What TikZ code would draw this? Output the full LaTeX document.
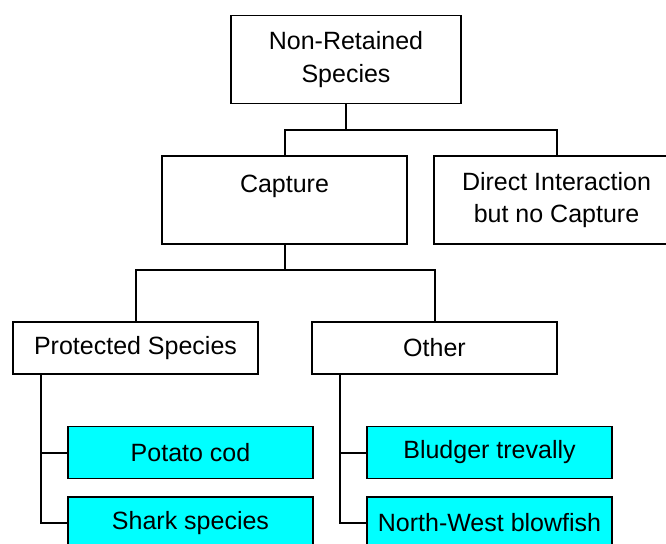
\documentclass[tikz,border=0pt]{standalone}
\usepackage{fontspec}
\setmainfont{Liberation Sans}
\usetikzlibrary{calc}
\definecolor{leafcyan}{RGB}{0,255,255}
\begin{document}
\begin{tikzpicture}[x=1pt,y=-1pt,
  box/.style={draw=black,line width=1.8pt,fill=white,inner sep=0pt,
    minimum width=245pt,align=center,
    font=\fontsize{25}{32.5}\selectfont},
  tall/.style={box,minimum height=88pt},
  flat/.style={box,minimum height=52pt},
  leaf/.style={flat,fill=leafcyan},
  link/.style={draw=black,line width=2pt}]
\useasboundingbox (0,0) rectangle (666,543);
\clip (0,0) rectangle (666,543);

% tree boxes
\node[tall,minimum width=230pt] (top) at (346,59.5) {Non-Retained\\Species};
\node[tall] (cap) at (284.5,200) {Capture\\\mbox{}};
\node[tall] (dir) at (556.5,200) {Direct Interaction\\but no Capture};
\node[flat] (prot) at (135.5,348) {Protected Species};
\node[flat] (oth) at (434.5,348) {Other};
\node[leaf] (pc) at (190.5,452.5) {Potato cod};
\node[leaf] (sh) at (190.5,523) {Shark species};
\node[leaf] (bt) at (489.5,452.5) {Bludger trevally};
\node[leaf] (nw) at (489.5,523) {North-West blowfish};

% elbow connectors
\draw[link] (top.south) -- ++(0,26) -| (cap.north);
\draw[link] (top.south) -- ++(0,26) -| (dir.north);
\draw[link] (cap.south) -- ++(0,25) -| (prot.north);
\draw[link] (cap.south) -- ++(0,25) -| (oth.north);

% side rails down to the leaf boxes
\coordinate (pj) at ($(prot.south west)+(29,0)$);
\coordinate (oj) at ($(oth.south west)+(29,0)$);
\draw[link] (pj) |- (pc.west);
\draw[link] (pj) |- (sh.west);
\draw[link] (oj) |- (bt.west);
\draw[link] (oj) |- (nw.west);
\end{tikzpicture}
\end{document}
